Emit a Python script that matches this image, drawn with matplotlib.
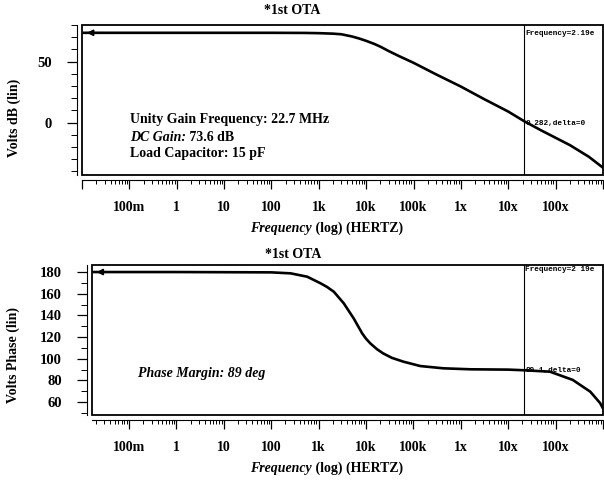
import matplotlib
matplotlib.use("Agg")
import matplotlib.pyplot as plt
import matplotlib.ticker as mticker
from matplotlib.patches import Rectangle

plt.rcParams['font.family'] = ['Liberation Serif', 'DejaVu Serif']
plt.rcParams['font.weight'] = 'bold'

# magnitude response
mag_freq = [0.011, 1, 100, 500, 1e3, 2e3, 3e3, 5e3, 7e3, 1e4, 1.5e4, 2e4, 3e4, 5e4,
            1e5, 3e5, 1e6, 3e6, 1e7, 2.19e7, 5e7, 1e8, 2e8, 5e8, 1e9]
mag_db = [73.6, 73.6, 73.6, 73.5, 73.3, 72.9, 72.4, 70.6, 69.0, 67.0, 64.4, 62.2, 58.6, 54.4,
          49.0, 39.5, 29.5, 19.5, 9.0, 1.0, -6.5, -12.5, -18.5, -28.0, -37.0]

# phase response
ph_freq = [0.018, 1, 100, 257, 575, 1.1e3, 1.5e3, 2.1e3, 3.4e3, 5.5e3, 8.3e3, 1e4, 1.23e4,
           1.7e4, 2.3e4, 3.5e4, 6.2e4, 1.4e5, 4.3e5, 1.6e6, 1e7, 2.19e7, 7.6e7, 2.3e8,
           5.4e8, 8.7e8, 1e9]
ph_deg = [180, 180, 179.7, 178.8, 175.7, 169.6, 166.3, 161.8, 151.1, 137.2, 123.4, 118.5,
          114.2, 108.8, 104.9, 100.8, 97.2, 93.2, 91.1, 90.2, 89.9, 89.3, 88.0, 80.4,
          69.5, 59.0, 54.0]

decades = [1e-2, 1e-1, 1, 10, 100, 1e3, 1e4, 1e5, 1e6, 1e7, 1e8, 1e9]
decade_labels = ['', '100m', '1', '10', '100', '1k', '10k', '100k', '1x', '10x', '100x', '']

cursor_freq = 2.19e7
cursor_db = '0.282'
cursor_ph = '89.1'

W, H = 604, 480
fig = plt.figure(figsize=(W / 100, H / 100), dpi=100)


def box(l, t, r, b):
    return [l / W, 1 - b / H, (r - l) / W, (b - t) / H]


def ftext(x, y, s, **kw):
    return fig.text(x / W, 1 - y / H, s, **kw)


def style(ax, xlo, ylo, yhi, ymajor, yminor):
    ax.set_xscale('log')
    ax.set_xlim(xlo, 1e9)
    ax.set_ylim(ylo, yhi)
    for s in ['top', 'right']:
        ax.spines[s].set_visible(False)
    ax.spines['bottom'].set_position(('outward', 3.5))
    ax.spines['left'].set_position(('outward', 3.5))
    ax.add_patch(Rectangle((0, 0), 1, 1, transform=ax.transAxes, fill=False,
                           lw=1.3, ec='black', clip_on=False))
    ax.xaxis.set_major_locator(mticker.FixedLocator(decades))
    ax.xaxis.set_major_formatter(mticker.FixedFormatter(decade_labels))
    ax.xaxis.set_minor_locator(mticker.LogLocator(base=10, subs=range(2, 10), numticks=30))
    ax.xaxis.set_minor_formatter(mticker.NullFormatter())
    ax.yaxis.set_major_locator(mticker.MultipleLocator(ymajor))
    ax.yaxis.set_minor_locator(mticker.MultipleLocator(yminor))
    ax.tick_params(axis='x', which='major', direction='out', length=6.5, width=0.9,
                   labelsize=10, pad=9)
    ax.tick_params(axis='x', which='minor', direction='out', length=3, width=0.7)
    ax.tick_params(axis='y', which='major', direction='out', length=7, width=0.9,
                   labelsize=10.5, pad=11)
    ax.tick_params(axis='y', which='minor', direction='out', length=4, width=0.7)
    for lab in ax.get_xticklabels() + ax.get_yticklabels():
        lab.set_fontweight('bold')
    ax.axvline(cursor_freq, color='black', lw=0.8)


def two_part(ax, x, y, first, second, first_style='italic', second_style='normal'):
    # first piece in one style, the rest placed right after it
    t = ftext(x, y, first, fontsize=10, weight='bold', style=first_style, va='baseline')
    ax.annotate(second, xy=(1, 0), xycoords=t, fontsize=10, weight='bold',
                style=second_style, va='bottom', ha='left')


mono = dict(fontsize=5.6, family='Liberation Mono', weight='bold', clip_on=True)

# ---- magnitude
ax1 = fig.add_axes(box(82, 25, 603, 175))
style(ax1, 1e-2, -43, 80, 50, 10)
ax1.plot(mag_freq, mag_db, color='black', lw=1.9)
ax1.annotate('', xy=(mag_freq[0], mag_db[0]), xytext=(mag_freq[0] * 3, mag_db[0]),
             arrowprops=dict(arrowstyle='-|>', color='black', lw=1.2, mutation_scale=9))
ax1.text(cursor_freq * 1.05, 0.94, 'Frequency=2.19e', transform=ax1.get_xaxis_transform(),
         va='center', **mono)
ax1.text(cursor_freq * 1.05, -0.5, cursor_db + ',delta=0', va='center', **mono)

ftext(292, 10, '*1st OTA', fontsize=10, weight='bold', ha='center', va='center')
ftext(14, 118, 'Volts dB (lin)', fontsize=10, weight='bold', rotation=90,
      ha='center', va='center')
two_part(ax1, 250, 232, 'Frequency', ' (log) (HERTZ)')
ftext(130, 120, 'Unity Gain Frequency: 22.7 MHz', fontsize=10, weight='bold', va='center')
two_part(ax1, 130, 141, 'DC Gain:', ' 73.6 dB')
ftext(130, 153, 'Load Capacitor: 15 pF', fontsize=10, weight='bold', va='center')

# ---- phase
ax2 = fig.add_axes(box(92, 265, 603, 415))
style(ax2, 0.0166, 48, 186.5, 20, 10)
ax2.plot(ph_freq, ph_deg, color='black', lw=1.9)
ax2.annotate('', xy=(ph_freq[0], ph_deg[0]), xytext=(ph_freq[0] * 3, ph_deg[0]),
             arrowprops=dict(arrowstyle='-|>', color='black', lw=1.2, mutation_scale=9))
ax2.text(cursor_freq * 1.05, 0.97, 'Frequency=2 19e', transform=ax2.get_xaxis_transform(),
         va='center', **mono)
ax2.text(cursor_freq * 1.05, 89.5, cursor_ph + ',delta=0', va='center', **mono)

ftext(293, 254, '*1st OTA', fontsize=10, weight='bold', ha='center', va='center')
ftext(13, 355, 'Volts Phase (lin)', fontsize=10, weight='bold', rotation=90,
      ha='center', va='center')
two_part(ax2, 250, 472, 'Frequency', ' (log) (HERTZ)')
ftext(138, 373, 'Phase Margin: 89 deg', fontsize=10, weight='bold', style='italic',
      va='center')

fig.savefig('out.png', dpi=100)
